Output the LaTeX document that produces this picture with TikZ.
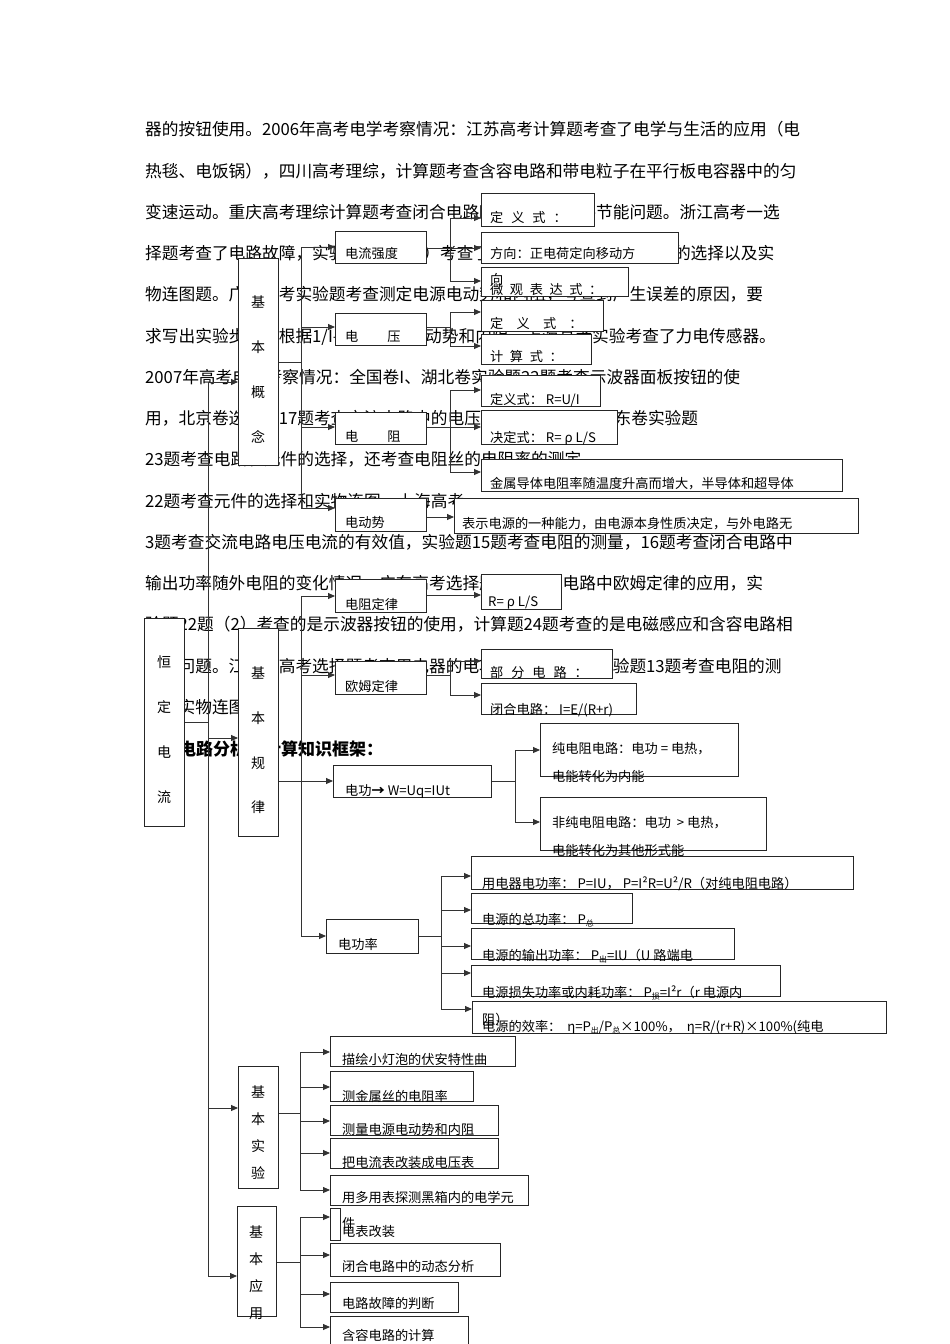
\documentclass[tikz,border=0pt]{standalone}
\usepackage{fontspec}
\setmainfont{Noto Sans CJK SC}
\usetikzlibrary{arrows.meta}
\tikzset{
  bx/.style={draw=black!85,line width=0.9pt,fill=white,anchor=north west,inner sep=0pt},
  bg/.style={anchor=base west,inner sep=0pt,font=\fontsize{16.7}{17}\selectfont},
  tx/.style={anchor=base west,inner sep=0pt,font=\fontsize{13.2}{14}\selectfont},
  vt/.style={anchor=base,inner sep=0pt,font=\fontsize{14}{14}\selectfont},
  ln/.style={draw=black!80,line width=0.9pt},
  ar/.style={ln,-{Triangle[length=7pt,width=6pt]}}
}
\newcommand{\bxn}[5]{\node[bx,minimum width=#4pt-#2pt,minimum height=#5pt-#3pt] (#1) at (#2,#3) {};}
\newcommand{\arw}[3]{\draw[ar] (#1,#2) -- (#3.west |- #1,#2);}
\begin{document}
\begin{tikzpicture}[x=1pt,y=-1pt]
\useasboundingbox[fill=white] (0,0) rectangle (950,1344);
% background text
\node[bg] at (145,135) {器的按钮使用。2006年高考电学考察情况：江苏高考计算题考查了电学与生活的应用（电};
\node[bg] at (145,177) {热毯、电饭锅），四川高考理综，计算题考查含容电路和带电粒子在平行板电容器中的匀};
\node[bg] at (145,218) {变速运动。重庆高考理综计算题考查闭合电路欧姆定律和电路节能问题。浙江高考一选};
\node[bg] at (145,259) {择题考查了电路故障，实验题22题（2）考查了测量电阻实验中电路元件的选择以及实};
\node[bg] at (145,300) {物连图题。广东高考实验题考查测定电源电动势和内阻，考查到产生误差的原因，要};
\node[bg] at (145,342) {求写出实验步骤，根据1/I—R图象求电动势和内阻，上海高考实验考查了力电传感器。};
\node[bg] at (145,383) {2007年高考电学考察情况：全国卷I、湖北卷实验题22题考查示波器面板按钮的使};
\node[bg] at (145,424) {用，北京卷选择题17题考查交流电路中的电压电流的有效值，山东卷实验题};
\node[bg] at (145,465) {23题考查电路和元件的选择，还考查电阻丝的电阻率的测定};
\node[bg] at (145,507) {22题考查元件的选择和实物连图，上海高考};
\node[bg] at (145,548) {3题考查交流电路电压电流的有效值，实验题15题考查电阻的测量，16题考查闭合电路中};
\node[bg] at (145,589) {输出功率随外电阻的变化情况，广东高考选择题考查交流电路中欧姆定律的应用，实};
\node[bg] at (145,630) {验题22题（2）考查的是示波器按钮的使用，计算题24题考查的是电磁感应和含容电路相};
\node[bg] at (145,672) {关的问题。江苏省高考选择题考查用电器的电功率计算问题，实验题13题考查电阻的测};
\node[bg] at (145,713) {量和实物连图。};
\node[bg,font=\fontsize{17}{17}\selectfont\bfseries] at (145,755) {三、电路分析与计算知识框架：};
% boxes
\bxn{A}{144}{618}{184}{826}
\bxn{B1}{238}{258}{278}{465}
\bxn{B2}{238}{628}{278}{836}
\bxn{B3}{238}{1066}{278}{1188}
\bxn{B4}{237}{1206}{276}{1316}
\bxn{c1}{335}{231}{426}{263}
\bxn{c2}{335}{313}{426}{345}
\bxn{c3}{335}{412}{426}{444}
\bxn{c4}{335}{498}{426}{531}
\bxn{d1}{481}{193}{594}{226}
\bxn{d2}{481}{232}{678}{263}
\bxn{d3}{481}{267}{628}{296}
\bxn{d4}{481}{300}{603}{331}
\bxn{d5}{481}{334}{591}{364}
\bxn{d6}{481}{375}{600}{406}
\bxn{d7}{481}{410}{617}{444}
\bxn{d8}{481}{459}{842}{491}
\bxn{d9}{454}{498}{858}{533}
\bxn{e1}{335}{579}{426}{612}
\bxn{e2}{335}{661}{426}{694}
\bxn{e3}{333}{765}{491}{797}
\bxn{e4}{326}{919}{418}{953}
\bxn{f1}{481}{574}{561}{609}
\bxn{f2}{481}{649}{612}{678}
\bxn{f3}{481}{683}{636}{714}
\bxn{g1}{540}{723}{738}{776}
\bxn{g2}{540}{797}{766}{850}
\bxn{h1}{471}{856}{853}{889}
\bxn{h2}{471}{893}{632}{923}
\bxn{h3}{471}{928}{734}{959}
\bxn{h4}{471}{965}{780}{996}
\bxn{h5}{472}{1001}{886}{1033}
\bxn{k1}{330}{1036}{515}{1066}
\bxn{k2}{330}{1071}{473}{1101}
\bxn{k3}{330}{1105}{498}{1135}
\bxn{k4}{330}{1138}{498}{1168}
\bxn{k5}{330}{1175}{528}{1205}
\bxn{m1}{330}{1208}{340}{1240}
\bxn{m2}{330}{1243}{500}{1276}
\bxn{m3}{330}{1282}{458}{1312}
\bxn{m4}{330}{1316}{468}{1344}
% connectors
\draw[ln] (A.east |- 0,722) -- (208,722);
\draw[ln] (208,382) -- (208,1276);
\arw{208}{382}{B1} \arw{208}{738}{B2} \arw{208}{1108}{B3} \arw{208}{1276}{B4}
\draw[ln] (B1.east |- 0,362) -- (301,362);
\draw[ln] (301,247) -- (301,508);
\arw{301}{247}{c1} \arw{301}{327}{c2} \arw{301}{427}{c3} \arw{301}{508}{c4}
\draw[ln] (c1.east |- 0,248) -- (450,248); \draw[ln] (450,218) -- (450,281);
\arw{450}{218}{d1} \arw{450}{248}{d2} \arw{450}{281}{d3}
\draw[ln] (c2.east |- 0,327) -- (450,327); \draw[ln] (450,312) -- (450,346);
\arw{450}{312}{d4} \arw{450}{346}{d5}
\draw[ln] (c3.east |- 0,427) -- (450,427); \draw[ln] (450,390) -- (450,472);
\arw{450}{390}{d6} \arw{450}{427}{d7} \arw{450}{472}{d8}
\draw[ar] (c4.east |- 0,517) -- (d9.west |- 0,517);
\draw[ln] (B2.east |- 0,781) -- (301,781);
\draw[ln] (301,596) -- (301,936);
\arw{301}{596}{e1} \arw{301}{675}{e2} \arw{301}{781}{e3} \arw{301}{936}{e4}
\draw[ar] (e1.east |- 0,595) -- (f1.west |- 0,595);
\draw[ln] (e2.east |- 0,675) -- (450,675); \draw[ln] (450,661) -- (450,695);
\arw{450}{661}{f2} \arw{450}{695}{f3}
\draw[ln] (e3.east |- 0,781) -- (515,781); \draw[ln] (515,750) -- (515,822);
\arw{515}{750}{g1} \arw{515}{822}{g2}
\draw[ln] (e4.east |- 0,936) -- (441,936); \draw[ln] (441,876) -- (441,1009);
\arw{441}{876}{h1} \arw{441}{910}{h2} \arw{441}{946}{h3} \arw{441}{973}{h4} \arw{441}{1009}{h5}
\draw[ln] (B3.east |- 0,1113) -- (300,1113); \draw[ln] (300,1052) -- (300,1190);
\arw{300}{1052}{k1} \arw{300}{1087}{k2} \arw{300}{1121}{k3} \arw{300}{1153}{k4} \arw{300}{1190}{k5}
\draw[ln] (B4.east |- 0,1262) -- (300,1262); \draw[ln] (300,1217) -- (300,1327);
\arw{300}{1217}{m1} \arw{300}{1255}{m2} \arw{300}{1294}{m3} \arw{300}{1327}{m4}
% vertical labels
\foreach \t/\y in {恒/667,定/712,电/757,流/802} \node[vt] at (164,\y) {\t};
\foreach \t/\y in {基/307,本/352,概/397,念/442} \node[vt] at (258,\y) {\t};
\foreach \t/\y in {基/678,本/723,规/768,律/812} \node[vt] at (258,\y) {\t};
\foreach \t/\y in {基/1097,本/1124,实/1151,验/1178} \node[vt] at (258,\y) {\t};
\foreach \t/\y in {基/1237,本/1264,应/1291,用/1318} \node[vt] at (256,\y) {\t};
% box texts
\node[tx] at (345,258) {电流强度};
\node[tx] at (345,341) {电\hspace{2.2em}压};
\node[tx] at (345,441) {电\hspace{2.2em}阻};
\node[tx] at (345,527) {电动势};
\node[tx] at (490,222) {定\hspace{0.6em}义\hspace{0.6em}式\hspace{0.6em}：};
\node[tx] at (490,258) {方向：正电荷定向移动方};
\node[tx] at (490,284) {向};
\node[tx] at (490,294) {微\hspace{0.5em}观\hspace{0.5em}表\hspace{0.5em}达\hspace{0.5em}式\hspace{0.5em}：};
\node[tx] at (490,328) {定\hspace{1em}义\hspace{1em}式\hspace{1em}：};
\node[tx] at (490,361) {计\hspace{0.5em}算\hspace{0.5em}式\hspace{0.5em}：};
\node[tx] at (490,404) {定义式：\ R=U/I};
\node[tx] at (490,442) {决定式：\ R= ρ L/S};
\node[tx] at (490,488) {金属导体电阻率随温度升高而增大，半导体和超导体};
\node[tx] at (462,528) {表示电源的一种能力，由电源本身性质决定，与外电路无};
\node[tx] at (345,609) {电阻定律};
\node[tx] at (488,606) {R= ρ L/S};
\node[tx] at (345,691) {欧姆定律};
\node[tx] at (490,677) {部\hspace{0.6em}分\hspace{0.6em}电\hspace{0.6em}路\hspace{0.6em}：};
\node[tx] at (490,714) {闭合电路：\ I=E/(R+r)};
\node[tx] at (345,795) {电功\textbf{→} W=Uq=IUt};
\node[tx] at (552,753) {纯电阻电路：电功 = 电热，};
\node[tx] at (552,781) {电能转化为内能};
\node[tx] at (552,827) {非纯电阻电路：电功\ \ > 电热，};
\node[tx] at (552,855) {电能转化为其他形式能};
\node[tx] at (338,949) {电功率};
\node[tx] at (482,888) {用电器电功率：\ P=IU，\ P=I²R=U²/R（对纯电阻电路）};
\node[tx] at (482,924) {电源的总功率：\ P\raisebox{-2pt}{\scalebox{0.6}{总}}};
\node[tx] at (482,960) {电源的输出功率：\ P\raisebox{-2pt}{\scalebox{0.6}{出}}=IU（U 路端电};
\node[tx] at (482,997) {电源损失功率或内耗功率：\ P\raisebox{-2pt}{\scalebox{0.6}{损}}=I²r（r 电源内};
\node[tx] at (482,1024) {阻）};
\node[tx] at (482,1031) {电源的效率：\ \ η=P\raisebox{-2pt}{\scalebox{0.6}{出}}/P\raisebox{-2pt}{\scalebox{0.6}{总}}×100\%，\ \ η=R/(r+R)×100\%(纯电};
\node[tx] at (342,1064) {描绘小灯泡的伏安特性曲};
\node[tx] at (342,1101) {测金属丝的电阻率};
\node[tx] at (342,1134) {测量电源电动势和内阻};
\node[tx] at (342,1167) {把电流表改装成电压表};
\node[tx] at (342,1202) {用多用表探测黑箱内的电学元};
\node[tx] at (342,1228) {件};
\node[tx] at (342,1236) {电表改装};
\node[tx] at (342,1271) {闭合电路中的动态分析};
\node[tx] at (342,1308) {电路故障的判断};
\node[tx] at (342,1340) {含容电路的计算};
\end{tikzpicture}
\end{document}
